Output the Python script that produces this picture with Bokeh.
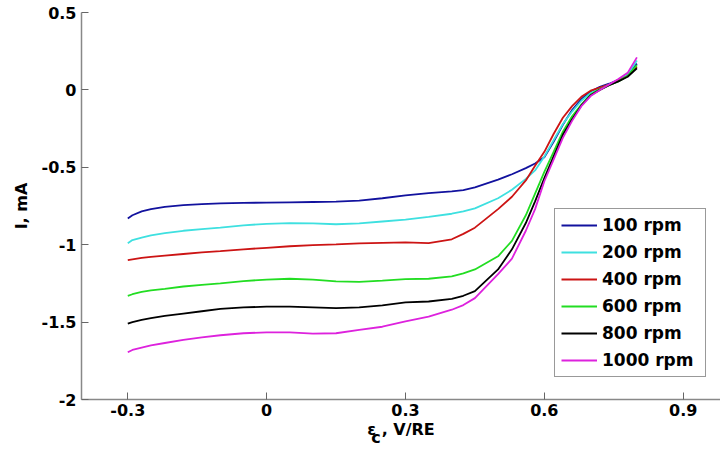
from bokeh.plotting import figure
from bokeh.models import (Range1d, FixedTicker, CustomJSTickFormatter, Legend,
                          LegendItem)
from bokeh.embed import file_html
from bokeh.resources import INLINE

# Potential (V vs RE), shared by all sweeps
potential = [-0.30, -0.29, -0.27, -0.25, -0.22, -0.18, -0.14, -0.10, -0.05, 0.00,
             0.05, 0.10, 0.15, 0.20, 0.25, 0.30, 0.35, 0.40, 0.425, 0.45,
             0.50, 0.53, 0.56, 0.58, 0.60, 0.62, 0.64, 0.66, 0.68, 0.70,
             0.72, 0.74, 0.76, 0.78, 0.80]

# Current (mA) for each rotation rate
i_100 = [-0.83, -0.81, -0.785, -0.77, -0.755, -0.745, -0.738, -0.733, -0.730, -0.728,
         -0.726, -0.724, -0.722, -0.715, -0.700, -0.682, -0.667, -0.655, -0.648, -0.630,
         -0.580, -0.545, -0.505, -0.475, -0.435, -0.335, -0.225, -0.13, -0.06, -0.01,
         0.02, 0.04, 0.065, 0.10, 0.17]
i_200 = [-0.99, -0.97, -0.955, -0.94, -0.925, -0.91, -0.90, -0.89, -0.875, -0.865,
         -0.86, -0.862, -0.868, -0.862, -0.85, -0.838, -0.82, -0.80, -0.785, -0.765,
         -0.70, -0.645, -0.575, -0.52, -0.43, -0.325, -0.22, -0.14, -0.07, -0.02,
         0.01, 0.035, 0.06, 0.10, 0.19]
i_400 = [-1.10, -1.095, -1.085, -1.078, -1.07, -1.06, -1.05, -1.042, -1.03, -1.02,
         -1.01, -1.003, -0.998, -0.992, -0.988, -0.985, -0.99, -0.965, -0.93, -0.89,
         -0.77, -0.69, -0.585, -0.49, -0.40, -0.285, -0.18, -0.105, -0.045, -0.005,
         0.015, 0.035, 0.06, 0.09, 0.15]
i_600 = [-1.33, -1.32, -1.305, -1.295, -1.285, -1.27, -1.26, -1.25, -1.235, -1.225,
         -1.22, -1.225, -1.237, -1.24, -1.232, -1.222, -1.22, -1.205, -1.185, -1.16,
         -1.075, -0.975, -0.81, -0.67, -0.53, -0.40, -0.27, -0.17, -0.095, -0.03,
         0.005, 0.03, 0.055, 0.09, 0.16]
i_800 = [-1.51, -1.50, -1.485, -1.475, -1.46, -1.445, -1.43, -1.415, -1.405, -1.40,
         -1.40, -1.405, -1.41, -1.405, -1.392, -1.372, -1.367, -1.35, -1.33, -1.30,
         -1.16, -1.03, -0.86, -0.72, -0.57, -0.43, -0.29, -0.19, -0.10, -0.035,
         0.0, 0.03, 0.055, 0.085, 0.14]
i_1000 = [-1.695, -1.68, -1.665, -1.65, -1.635, -1.615, -1.598, -1.585, -1.572, -1.566,
          -1.566, -1.574, -1.572, -1.55, -1.53, -1.495, -1.465, -1.42, -1.39, -1.345,
          -1.19, -1.09, -0.91, -0.77, -0.59, -0.45, -0.31, -0.20, -0.105, -0.04,
          0.0, 0.035, 0.07, 0.11, 0.21]

series_labels = ["100 rpm", "200 rpm", "400 rpm", "600 rpm", "800 rpm", "1000 rpm"]
series_colors = ["#12129e", "#3ee0e0", "#cc1414", "#22dd22", "#000000", "#dd22dd"]
x_ticks = [-0.3, 0.0, 0.3, 0.6, 0.9]
y_ticks = [-2.0, -1.5, -1.0, -0.5, 0.0, 0.5]

p = figure(width=720, height=450, output_backend="svg", toolbar_location=None,
           x_range=Range1d(-0.4, 0.9806), y_range=Range1d(-2.0, 0.5),
           min_border_left=81, min_border_right=0, min_border_top=12,
           min_border_bottom=51)
p.outline_line_color = None
p.grid.visible = False
p.background_fill_color = "white"
p.border_fill_color = "white"

fmt = "return String(Math.round(tick*10)/10);"
p.xaxis.ticker = FixedTicker(ticks=x_ticks)
p.yaxis.ticker = FixedTicker(ticks=y_ticks)
for ax in (p.xaxis[0], p.yaxis[0]):
    ax.formatter = CustomJSTickFormatter(code=fmt)
    ax.axis_line_color = "#888888"
    ax.axis_line_width = 1.5
    ax.major_tick_line_color = "#666666"
    ax.major_tick_in = 7
    ax.major_tick_out = 0
    ax.minor_tick_line_color = None
    ax.major_label_text_font = "DejaVu Sans"
    ax.major_label_text_font_style = "bold"
    ax.major_label_text_font_size = "16px"
    ax.major_label_text_color = "black"
    ax.major_label_standoff = 5
    ax.axis_label_text_font = "DejaVu Sans"
    ax.axis_label_text_font_style = "bold"
    ax.axis_label_text_font_size = "16px"
    ax.axis_label_text_color = "black"

p.yaxis.axis_label = "I, mA"
p.yaxis.axis_label_standoff = 8

# "ε_c, V/RE": second line carries the subscript c, pulled up close to the first
nb = "\u00a0"
p.xaxis.axis_label = "ε" + nb + ", V/RE\n" + "c" + nb * 9
p.xaxis.axis_label_text_line_height = 0.45
p.xaxis.axis_label_standoff = 1
p.xaxis.major_label_standoff = 4

series = [i_100, i_200, i_400, i_600, i_800, i_1000]
items = []
for ys, lab, col in zip(series, series_labels, series_colors):
    r = p.line(potential, ys, line_color=col, line_width=1.8)
    items.append(LegendItem(label=lab, renderers=[r]))

legend = Legend(items=items, location=(473, 22), glyph_width=36, glyph_height=20,
                label_height=20, label_width=97, label_standoff=5, spacing=7,
                padding=6, margin=0,
                border_line_color="#333333", border_line_width=1,
                background_fill_color="white", background_fill_alpha=1.0,
                label_text_font="DejaVu Sans", label_text_font_style="bold",
                label_text_font_size="17px", label_text_color="black")
p.add_layout(legend)

open("out.html", "w").write(file_html(p, INLINE))
